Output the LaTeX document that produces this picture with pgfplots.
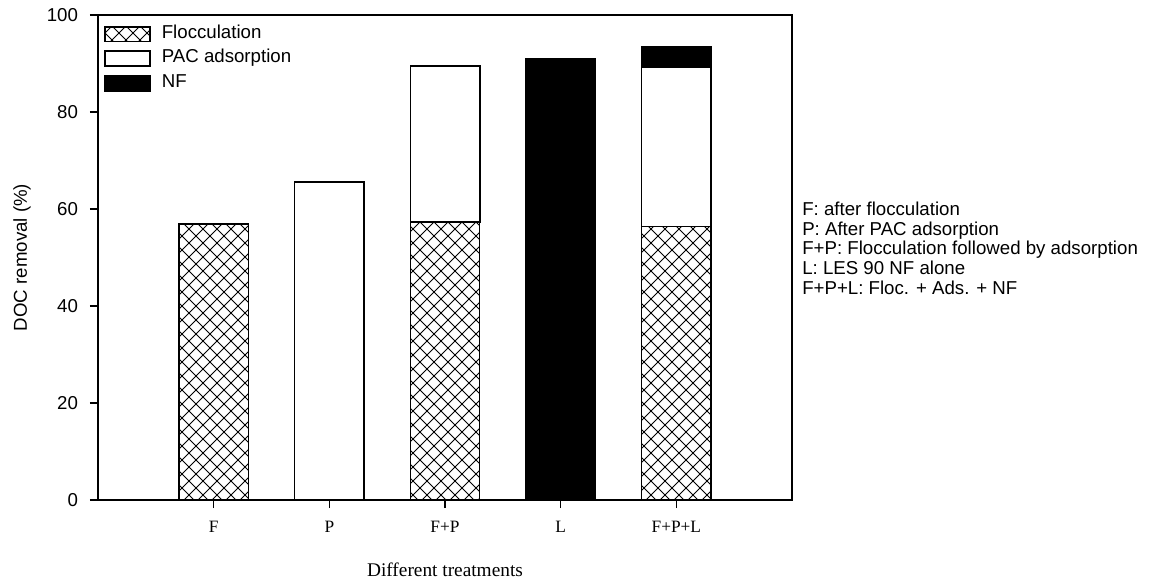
\documentclass[border=0pt]{standalone}
\usepackage{fontspec}
\setmainfont{Liberation Sans}
\newfontfamily\serif{Liberation Serif}
\usepackage{pgfplots}
\usepackage{pgfplotstable}
\pgfplotsset{compat=1.18}
\usetikzlibrary{patterns}

\pgfdeclarepatternformonly{diamondhatch}{\pgfqpoint{-0.5pt}{-0.5pt}}{\pgfqpoint{11pt}{11pt}}{\pgfqpoint{10.5pt}{10.5pt}}{%
  \pgfsetlinewidth{0.6pt}%
  \pgfpathmoveto{\pgfqpoint{0pt}{0pt}}\pgfpathlineto{\pgfqpoint{10.5pt}{10.5pt}}%
  \pgfpathmoveto{\pgfqpoint{0pt}{10.5pt}}\pgfpathlineto{\pgfqpoint{10.5pt}{0pt}}%
  \pgfusepath{stroke}}

\pgfplotstableread{
x floc pac nf
1 56.9 0 0
2 0 65.6 0
3 57.3 32.2 0
4 0 0 90.9
5 56.4 32.9 4.1
}\data

\begin{document}
\begin{tikzpicture}
\useasboundingbox (-73.5pt,-64.5pt) rectangle (793.5pt,375pt);
\begin{axis}[
  at={(0pt,0pt)}, anchor=south west,
  width=520.5pt, height=363.75pt, scale only axis,
  xmin=0, xmax=6, ymin=0, ymax=100,
  xtick={1,2,3,4,5}, xticklabels={F,P,F+P,L,F+P+L},
  ytick={0,20,40,60,80,100},
  tick align=outside, xtick pos=bottom, ytick pos=left,
  major tick length=6pt,
  axis line style={line width=0.8pt},
  tick style={line width=0.8pt, black},
  ybar stacked, bar width=0.6,
  /pgf/number format/assume math mode=true,
  yticklabel style={font=\fontsize{14}{16}\selectfont, xshift=-5.5pt},
  xticklabel style={font=\serif\fontsize{13}{15}\selectfont, yshift=-6pt},
  xlabel={Different treatments}, ylabel={DOC removal (\%)},
  every axis x label/.style={at={(axis description cs:0.5,-0.144)}, anchor=center, font=\serif\fontsize{14.5}{16}\selectfont},
  every axis y label/.style={at={(axis description cs:-0.1095,0.5)}, anchor=center, rotate=90, font=\fontsize{14}{16}\selectfont},
  legend style={at={(axis description cs:0.0086,0.978)}, anchor=north west, draw=none, fill=none, inner sep=0pt,
    font=\fontsize{14}{16}\selectfont, row sep=6pt, column sep=8.25pt,
    nodes={inner sep=0pt, text height=9pt, text depth=3pt}},
  legend cell align=left,
  legend image code/.code={\draw[#1, line width=1.2pt] (0pt,-5.6pt) rectangle (33.75pt,5.6pt);},
]
\addplot[draw=black, line width=1pt, pattern=diamondhatch] table[x=x,y=floc]{\data};
\addplot[draw=black, line width=1.2pt, fill=white] table[x=x,y=pac]{\data};
\addplot[draw=black, line width=1.2pt, fill=black] table[x=x,y=nf]{\data};
\legend{Flocculation, PAC adsorption, NF}
\end{axis}
\node[anchor=north west, align=left, inner sep=0pt, font=\fontsize{14}{14.7}\selectfont] at (528pt,223.5pt)
{F: after flocculation\\P: After PAC adsorption\\F+P: Flocculation followed by adsorption\\L: LES 90 NF alone\\F+P+L: Floc. + Ads. + NF};
\end{tikzpicture}
\end{document}
